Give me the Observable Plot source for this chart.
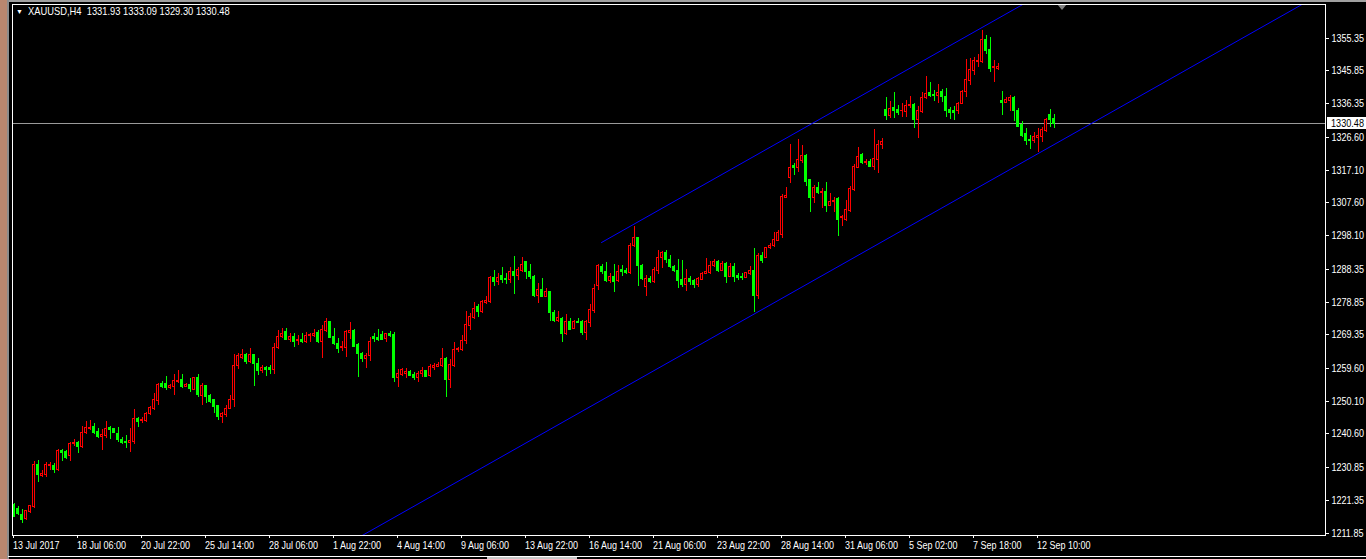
<!DOCTYPE html>
<html><head><meta charset="utf-8">
<script src="https://cdn.jsdelivr.net/npm/d3@7"></script>
<script src="https://cdn.jsdelivr.net/npm/@observablehq/plot@0.6"></script>
<style>
html,body{margin:0;padding:0;background:#000;overflow:hidden;}
#wrap{position:relative;width:1366px;height:559px;background:#000;font-family:"Liberation Sans",Arial,sans-serif;font-size:11px;}
#chart{position:absolute;left:0;top:0;}
.deco{position:absolute;}
#hdr{position:absolute;left:16px;top:4px;color:#fff;white-space:pre;line-height:14px;}
#hdr .tri{font-size:7px;vertical-align:1px;margin-right:5px;}
#hdr .txt{display:inline-block;transform:scaleX(0.85);transform-origin:0 50%;}
#bid{position:absolute;left:1327px;width:39px;height:12px;background:#fff;color:#000;line-height:12px;padding-left:4px;box-sizing:border-box;white-space:nowrap;overflow:hidden;}
#bid span{display:inline-block;transform:scaleX(0.83);transform-origin:0 50%;}
</style></head>
<body><div id="wrap">
<div class="deco" style="left:0;top:0;width:7px;height:559px;background:#b9876f"></div>
<div class="deco" style="left:7px;top:0;width:2px;height:559px;background:#8c8c8c"></div>
<div class="deco" style="left:9px;top:0;width:1357px;height:2px;background:#a0a0a0"></div>
<div class="deco" style="left:8px;top:556px;width:1358px;height:1px;background:#fff"></div>
<div class="deco" style="left:487px;top:557px;width:90px;height:2px;background:#c8c8c8"></div>
<div class="deco" style="left:1057px;top:4px;width:0;height:0;border-left:5px solid transparent;border-right:5px solid transparent;border-top:6px solid #808080"></div>
<div id="chart"></div>
<div id="hdr"></div>
<div id="bid"></div>
</div>
<script>
const symbol = "XAUUSD,H4";
const open = [1219.86,1218.70,1216.96,1215.80,1217.83,1219.38,1231.46,1228.37,1228.56,1231.26,1231.26,1230.01,1235.61,1235.32,1234.07,1237.55,1237.93,1236.77,1240.83,1241.99,1242.57,1241.12,1239.67,1239.96,1242.28,1241.99,1240.45,1238.90,1238.22,1237.93,1238.22,1244.80,1244.41,1244.31,1246.44,1247.79,1250.11,1255.04,1255.14,1253.98,1254.17,1255.72,1256.30,1254.36,1254.94,1253.40,1256.88,1251.75,1254.56,1251.75,1250.31,1248.57,1245.47,1245.96,1247.89,1250.50,1260.45,1262.68,1263.35,1261.42,1263.35,1260.93,1258.80,1259.67,1259.67,1259.19,1265.57,1268.66,1270.30,1267.98,1268.85,1267.50,1267.98,1267.21,1269.05,1268.95,1269.82,1267.21,1270.59,1273.01,1268.85,1266.73,1265.47,1265.57,1269.92,1270.40,1266.44,1263.83,1262.38,1263.06,1268.85,1268.47,1269.43,1268.18,1269.63,1269.43,1256.77,1257.84,1258.03,1258.71,1257.84,1256.97,1258.03,1258.80,1257.35,1259.77,1259.96,1260.45,1262.38,1256.39,1260.25,1264.80,1264.99,1267.50,1272.04,1274.17,1277.55,1275.91,1278.52,1278.81,1285.86,1284.61,1286.44,1285.67,1285.38,1287.70,1286.54,1287.99,1290.60,1287.70,1286.25,1280.74,1282.39,1280.45,1281.71,1275.81,1273.49,1274.07,1269.63,1273.20,1271.08,1273.20,1273.01,1269.82,1272.72,1276.39,1283.64,1289.15,1287.70,1285.09,1286.25,1284.90,1288.28,1287.99,1287.22,1295.24,1297.46,1289.44,1283.16,1285.58,1284.61,1287.99,1291.67,1293.02,1291.09,1289.15,1287.99,1285.38,1283.65,1285.58,1285.09,1283.65,1285.38,1287.03,1287.22,1289.25,1290.60,1287.99,1289.93,1286.06,1289.15,1286.54,1286.25,1285.87,1287.03,1287.99,1280.55,1292.34,1291.67,1294.47,1295.05,1296.69,1298.43,1309.06,1314.86,1318.24,1317.76,1319.88,1321.33,1314.09,1308.96,1311.96,1310.41,1310.90,1306.84,1307.80,1308.77,1303.16,1302.78,1305.39,1311.38,1317.76,1321.62,1319.11,1319.40,1318.14,1320.17,1324.43,1334.67,1332.93,1335.06,1334.67,1334.10,1333.90,1335.64,1336.12,1331.49,1333.90,1337.96,1339.60,1339.02,1338.54,1339.70,1338.44,1334.67,1334.38,1334.19,1336.32,1339.70,1343.08,1345.98,1348.40,1348.59,1354.97,1351.97,1346.66,1346.56,1337.28,1336.51,1337.28,1338.06,1334.38,1330.04,1327.43,1325.88,1325.49,1326.46,1326.65,1328.39,1333.22,1331.93];
const high = [1220.34,1219.57,1218.60,1218.41,1219.86,1232.62,1232.91,1230.01,1232.23,1232.23,1231.94,1236.10,1236.10,1235.81,1238.03,1238.90,1238.42,1242.77,1244.22,1244.51,1243.54,1242.09,1241.80,1244.22,1242.77,1242.28,1242.38,1239.67,1240.16,1242.09,1247.70,1245.47,1245.47,1246.92,1248.57,1252.24,1255.14,1255.81,1257.26,1254.94,1257.84,1259.00,1257.84,1255.33,1256.59,1257.07,1257.84,1255.14,1254.75,1252.04,1250.59,1248.76,1246.73,1248.76,1251.75,1263.64,1263.84,1265.00,1264.03,1265.29,1263.64,1262.38,1260.45,1260.16,1260.45,1266.73,1270.59,1271.08,1271.08,1269.63,1269.63,1269.14,1269.63,1270.11,1269.82,1270.79,1270.59,1272.04,1273.98,1273.30,1271.08,1268.18,1267.50,1270.59,1273.01,1270.79,1266.92,1264.31,1263.83,1268.47,1269.82,1270.79,1270.30,1269.82,1270.30,1270.11,1259.29,1259.48,1259.48,1258.99,1258.51,1258.80,1259.96,1258.99,1260.74,1261.12,1261.41,1265.47,1262.67,1262.28,1267.02,1265.76,1269.14,1276.10,1275.43,1278.81,1278.13,1279.29,1280.45,1286.25,1287.99,1287.02,1288.96,1287.02,1288.96,1292.05,1288.96,1291.66,1290.70,1289.73,1286.54,1284.32,1285.58,1282.87,1282.00,1276.39,1276.10,1274.46,1275.23,1273.98,1273.49,1273.98,1273.49,1273.49,1278.13,1283.93,1289.73,1289.73,1290.41,1287.22,1289.73,1289.44,1289.44,1288.48,1295.73,1300.75,1297.66,1289.73,1286.54,1286.25,1288.96,1293.79,1293.60,1293.79,1292.34,1289.44,1291.09,1290.89,1288.19,1286.25,1285.29,1286.06,1287.51,1291.38,1290.60,1291.09,1290.89,1290.60,1290.41,1289.93,1289.93,1287.03,1287.22,1287.51,1289.15,1294.47,1292.83,1293.31,1294.76,1295.92,1299.11,1299.59,1309.93,1311.96,1324.52,1318.92,1325.88,1324.23,1321.62,1314.28,1312.64,1313.60,1311.67,1313.60,1310.22,1309.26,1309.06,1303.94,1308.29,1312.35,1318.63,1323.75,1322.01,1320.08,1320.08,1328.87,1325.68,1326.17,1338.25,1336.99,1339.70,1335.83,1336.32,1337.28,1338.44,1336.32,1335.54,1339.70,1344.24,1342.60,1340.18,1341.92,1340.47,1340.86,1335.35,1335.54,1336.80,1340.18,1349.08,1349.37,1349.85,1350.62,1357.58,1356.13,1355.45,1348.88,1347.92,1339.99,1338.25,1338.73,1338.44,1334.87,1331.29,1329.07,1327.14,1328.10,1329.07,1329.55,1332.16,1334.67,1333.09];
const low = [1216.28,1216.96,1214.74,1215.51,1217.44,1218.89,1226.63,1228.08,1228.08,1230.01,1229.24,1229.81,1232.71,1233.10,1232.71,1236.97,1235.03,1236.29,1240.35,1241.61,1240.45,1239.19,1235.81,1239.38,1238.90,1240.64,1238.22,1237.45,1236.48,1235.32,1237.55,1242.57,1243.54,1244.02,1245.96,1247.41,1248.86,1253.69,1253.20,1253.40,1251.75,1255.14,1253.69,1253.98,1252.72,1253.20,1251.27,1248.86,1249.34,1249.34,1246.44,1244.51,1243.73,1245.47,1247.60,1248.37,1259.29,1262.19,1260.74,1260.94,1254.36,1257.55,1258.03,1257.26,1257.84,1257.84,1264.99,1268.18,1267.69,1267.02,1265.76,1266.24,1266.92,1266.73,1267.21,1268.66,1266.73,1262.57,1270.11,1268.18,1266.24,1264.02,1264.60,1262.86,1267.89,1265.76,1257.06,1261.41,1259.67,1261.70,1267.21,1267.40,1267.69,1267.21,1268.66,1255.61,1254.16,1257.26,1256.58,1257.26,1256.10,1255.61,1256.87,1256.87,1257.06,1258.99,1259.77,1259.96,1251.26,1253.87,1259.96,1264.31,1264.60,1266.44,1270.59,1273.69,1274.46,1275.62,1278.13,1278.33,1283.35,1283.55,1284.32,1283.93,1284.12,1281.03,1285.09,1287.51,1285.29,1285.29,1280.07,1278.52,1280.07,1280.07,1273.30,1273.01,1273.01,1267.21,1269.14,1270.59,1270.79,1272.53,1269.14,1267.70,1271.37,1275.62,1282.19,1286.83,1284.61,1284.13,1281.71,1284.61,1286.25,1286.83,1286.83,1294.76,1283.45,1285.09,1280.55,1284.32,1284.32,1286.83,1288.67,1290.12,1288.48,1287.51,1282.87,1282.97,1282.00,1283.65,1282.68,1282.97,1285.09,1286.83,1286.83,1288.96,1287.51,1287.80,1284.32,1285.87,1284.61,1285.09,1285.09,1285.58,1286.54,1275.91,1279.49,1289.93,1291.38,1293.99,1294.76,1296.50,1297.17,1308.77,1313.12,1315.54,1316.50,1319.11,1312.35,1304.90,1307.51,1310.03,1306.06,1304.90,1306.55,1304.90,1297.94,1300.84,1302.29,1304.90,1310.99,1317.47,1318.63,1318.43,1317.76,1316.99,1316.21,1323.07,1331.49,1331.97,1331.97,1332.93,1332.45,1332.45,1334.87,1329.26,1326.17,1333.61,1337.48,1338.25,1337.09,1336.32,1336.80,1332.26,1331.68,1331.49,1333.22,1336.03,1338.06,1341.63,1344.53,1346.95,1347.92,1350.53,1345.50,1342.60,1345.98,1332.93,1336.32,1334.19,1331.29,1329.36,1326.46,1324.24,1323.08,1324.91,1322.30,1325.20,1328.10,1329.55,1329.30];
const close = [1216.48,1217.25,1215.70,1218.12,1219.57,1231.46,1228.56,1229.04,1231.46,1231.55,1230.01,1235.52,1235.03,1233.58,1237.74,1237.93,1236.77,1240.93,1242.19,1242.38,1240.83,1239.67,1240.16,1242.09,1241.70,1240.83,1238.90,1237.93,1237.93,1238.42,1244.80,1243.93,1244.70,1246.44,1248.08,1250.31,1254.94,1254.36,1253.88,1254.46,1256.10,1256.10,1254.36,1254.94,1253.59,1256.88,1252.04,1254.46,1251.46,1249.82,1248.37,1245.47,1246.25,1247.89,1250.59,1260.45,1263.06,1263.35,1261.61,1263.35,1260.93,1258.80,1259.67,1259.19,1259.19,1265.57,1268.85,1269.63,1267.98,1268.85,1267.40,1267.98,1267.21,1269.14,1269.43,1269.63,1267.21,1270.79,1273.01,1268.37,1266.73,1265.28,1265.95,1270.11,1270.40,1265.95,1263.64,1262.38,1263.25,1267.21,1268.18,1267.89,1267.89,1269.63,1268.95,1256.77,1258.03,1259.19,1258.71,1257.55,1256.87,1258.03,1258.80,1257.26,1260.16,1260.35,1260.74,1262.38,1256.39,1260.64,1265.08,1265.28,1267.69,1272.33,1274.65,1276.88,1275.91,1279.00,1279.10,1285.86,1284.61,1285.96,1285.38,1285.29,1287.60,1286.54,1288.28,1289.63,1287.51,1286.06,1280.74,1282.39,1280.45,1281.71,1275.62,1273.49,1274.17,1269.63,1273.20,1270.79,1273.20,1272.72,1269.82,1273.01,1276.59,1282.68,1289.25,1287.51,1285.09,1286.25,1284.80,1287.70,1287.70,1287.22,1295.24,1297.46,1289.25,1285.58,1285.58,1284.61,1288.19,1291.67,1293.02,1291.09,1288.96,1287.80,1285.09,1283.65,1285.58,1284.61,1283.65,1285.58,1287.03,1287.51,1289.44,1290.60,1287.99,1289.93,1286.06,1289.15,1286.25,1285.77,1285.77,1287.22,1287.99,1280.55,1292.34,1290.89,1294.57,1295.24,1296.89,1298.82,1309.26,1309.74,1317.76,1317.76,1320.08,1321.33,1313.60,1308.96,1311.96,1310.41,1310.90,1306.84,1308.00,1308.29,1302.78,1303.45,1305.58,1311.67,1318.14,1321.04,1319.11,1319.59,1318.14,1320.37,1324.52,1325.20,1332.93,1334.87,1334.38,1333.71,1334.38,1335.83,1336.03,1331.49,1334.10,1338.06,1339.22,1338.73,1338.54,1339.60,1338.44,1334.38,1333.80,1333.80,1336.32,1339.89,1343.28,1346.18,1348.88,1348.88,1354.97,1351.78,1346.47,1346.95,1346.95,1336.51,1337.57,1338.06,1334.19,1329.55,1326.85,1325.49,1325.49,1326.65,1326.94,1328.78,1331.49,1331.68,1330.48];

const priceTicks = [1355.35,1345.85,1336.35,1326.60,1317.10,1307.60,1298.10,1288.35,1278.85,1269.35,1259.60,1250.10,1240.60,1230.85,1221.35,1211.85];
const timeLabels = ["13 Jul 2017","18 Jul 06:00","20 Jul 22:00","25 Jul 14:00","28 Jul 06:00","1 Aug 22:00","4 Aug 14:00","9 Aug 06:00","13 Aug 22:00","16 Aug 14:00","21 Aug 06:00","23 Aug 22:00","28 Aug 14:00","31 Aug 06:00","5 Sep 02:00","7 Sep 18:00","12 Sep 10:00"];
const timeLabelBars = [0,16,32,48,64,80,96,112,128,144,160,176,192,208,224,240,256];
// equidistant channel: bar index, price
const channelUpper = [{bar:146.875, price:1296.11},{bar:256, price:1367.62}];
const channelLower = [{bar:87.05, price:1211.16},{bar:323, price:1365.78}];

const candles = open.map((o, i) => ({bar: i, o, h: high[i], l: low[i], c: close[i]}));
const bulls = candles.filter(d => d.c >= d.o);
const bears = candles.filter(d => d.c < d.o);
const last = candles[candles.length - 1];
const bidPrice = last.c;

const RED = "#ff0000", GREEN = "#00ff00";
const chart = Plot.plot({
  width: 1366, height: 559,
  marginLeft: 12, marginRight: 41, marginTop: 4, marginBottom: 24,
  style: {background: "transparent", color: "#fff", fontSize: "11px",
          fontFamily: '"Liberation Sans",Arial,sans-serif'},
  x: {type: "linear", domain: [-0.375, 327.875], axis: null},
  y: {type: "linear", domain: [1211.16, 1365.12], axis: null},
  marks: [
    Plot.ruleY([bidPrice], {stroke: "#9a9a9a", shapeRendering: "crispEdges"}),
    Plot.ruleX(bears, {x: "bar", y1: "l", y2: "h", stroke: GREEN, shapeRendering: "crispEdges"}),
    Plot.ruleX(bulls, {x: "bar", y1: "l", y2: "h", stroke: RED, shapeRendering: "crispEdges"}),
    Plot.rect(bears, {x1: d => d.bar - 0.25, x2: d => d.bar + 0.25, y1: "o", y2: "c", fill: GREEN, stroke: GREEN, shapeRendering: "crispEdges"}),
    Plot.rect(bulls, {x1: d => d.bar - 0.25, x2: d => d.bar + 0.25, y1: "o", y2: "c", fill: "#000", stroke: RED, shapeRendering: "crispEdges"}),
    Plot.line(channelUpper, {x: "bar", y: "price", stroke: "#0000ff", strokeWidth: 1, clip: true}),
    Plot.line(channelLower, {x: "bar", y: "price", stroke: "#0000ff", strokeWidth: 1, clip: true}),
    Plot.frame({stroke: "#fff", shapeRendering: "crispEdges"}),
    Plot.axisY(priceTicks, {anchor: "right", tickSize: 3, tickPadding: 3, label: null,
      tickFormat: d => d.toFixed(2), color: "#fff", shapeRendering: "crispEdges"}),
    Plot.axisX(timeLabelBars, {anchor: "bottom", tickSize: 3, tickPadding: 3, label: null, textAnchor: "start", dx: -1,
      tickFormat: d => timeLabels[timeLabelBars.indexOf(d)], color: "#fff", shapeRendering: "crispEdges"})
  ]
});
// condense the axis labels horizontally (the reference uses a narrow bitmap font)
for (const t of chart.querySelectorAll("text")) {
  const tr = t.getAttribute("transform") || "";
  t.setAttribute("transform", (tr + " scale(0.82,1)").trim());
}
document.getElementById("chart").appendChild(chart);

document.getElementById("hdr").innerHTML =
  '<span class="tri">\u25BC</span><span class="txt">' + symbol + "  " +
  [last.o, last.h, last.l, last.c].map(v => v.toFixed(2)).join(" ") + "</span>";
const by = chart.scale("y").apply(bidPrice);
const bid = document.getElementById("bid");
bid.style.top = (by - 6) + "px";
bid.innerHTML = "<span>" + bidPrice.toFixed(2) + "</span>";
</script>
</body></html>
